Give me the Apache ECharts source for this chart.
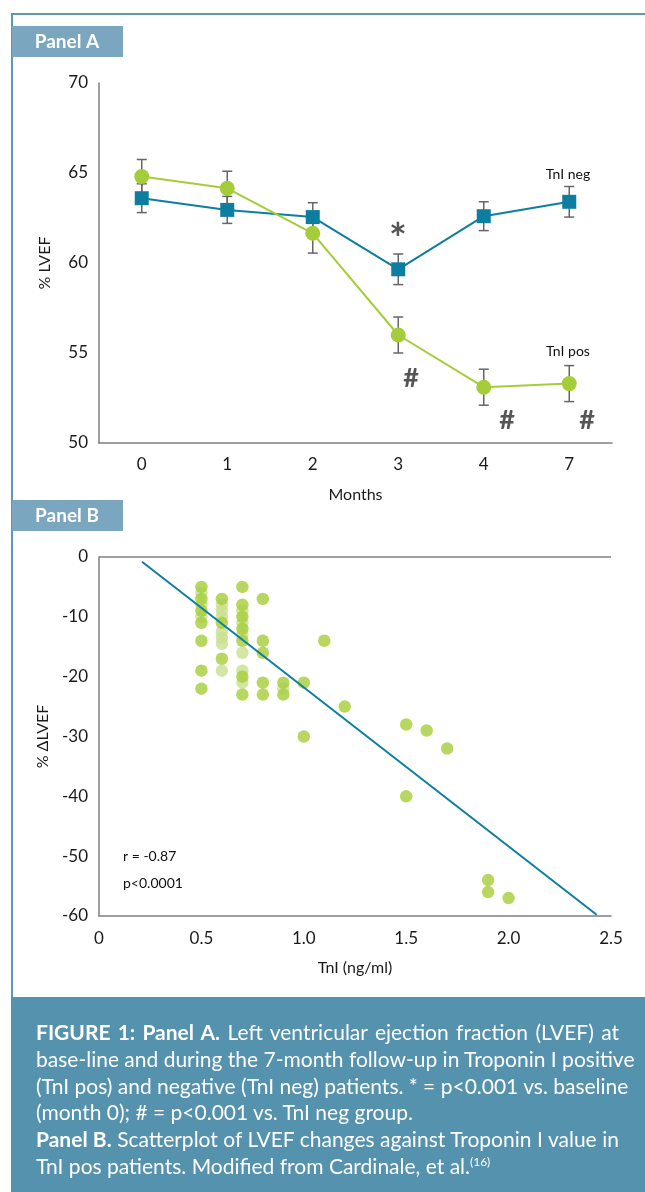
<!DOCTYPE html>
<html>
<head>
<meta charset="utf-8">
<script src="https://cdn.jsdelivr.net/npm/echarts@6/dist/echarts.min.js"></script>
<style>
  html, body { margin: 0; padding: 0; background: #ffffff; }
  #wrap { position: relative; width: 645px; height: 1192px; overflow: hidden; }
  #chart { position: absolute; left: 0; top: 0; width: 645px; height: 1192px; }
  #cap { position: absolute; left: 36px; top: 1019px; width: 583px; color: #ffffff;
         font-family: Lato, 'Noto Sans', sans-serif; font-size: 21px; line-height: 26.8px; }
  #cap .l { white-space: nowrap; }
  #cap .j { text-align: justify; text-align-last: justify; }
  #cap b { font-weight: 700; }
  #cap sup { font-size: 12px; line-height: 0; vertical-align: 8px; }
</style>
</head>
<body>
<div id="wrap">
  <div id="chart"></div>
  <div id="cap">
    <div class="l j"><b>FIGURE 1: Panel A.</b> Left ventricular ejection fraction (LVEF) at</div>
    <div class="l j">base-line and during the 7-month follow-up in Troponin I positive</div>
    <div class="l j">(TnI pos) and negative (TnI neg) patients. * = p&lt;0.001 vs. baseline</div>
    <div class="l">(month 0); # = p&lt;0.001 vs. TnI neg group.</div>
    <div class="l j"><b>Panel B.</b> Scatterplot of LVEF changes against Troponin I value in</div>
    <div class="l">TnI pos patients. Modified from Cardinale, et al.<sup>(16)</sup></div>
  </div>
</div>
<script>
// ---------- Panel A data ----------
const months = ['0', '1', '2', '3', '4', '7'];
const tnINeg = [63.6, 62.95, 62.55, 59.65, 62.6, 63.4];
const tnINegErr = [0.8, 0.75, 0.8, 0.85, 0.8, 0.85];
const tnIPos = [64.8, 64.15, 61.65, 56.0, 53.1, 53.3];
const tnIPosErr = [0.95, 0.95, 1.1, 1.0, 1.0, 1.0];
const yTicksA = [50, 55, 60, 65, 70];

// ---------- Panel B data ----------
const scatterDark = [
  [0.5, -5], [0.5, -7], [0.5, -9], [0.5, -11], [0.5, -14], [0.5, -19], [0.5, -22],
  [0.6, -7], [0.6, -11], [0.6, -17],
  [0.7, -5], [0.7, -8], [0.7, -10], [0.7, -12], [0.7, -14], [0.7, -20], [0.7, -23],
  [0.8, -7], [0.8, -14], [0.8, -16], [0.8, -21], [0.8, -23],
  [0.9, -21], [0.9, -23],
  [1.0, -21], [1.0, -30],
  [1.1, -14],
  [1.2, -25],
  [1.5, -28], [1.5, -40],
  [1.6, -29],
  [1.7, -32],
  [1.9, -54], [1.9, -56],
  [2.0, -57]
];
const scatterLight = [
  [0.5, -6], [0.5, -8], [0.5, -10],
  [0.6, -8], [0.6, -9], [0.6, -10], [0.6, -12.5], [0.6, -13.5], [0.6, -14.5], [0.6, -19],
  [0.7, -9], [0.7, -11], [0.7, -13], [0.7, -16], [0.7, -19], [0.7, -21],
  [0.9, -22]
];
const regressionLine = [[0.21, -0.8], [2.43, -59.8]];
const xTicksB = [0, 0.5, 1.0, 1.5, 2.0, 2.5];
const statsText = ['r = -0.87', 'p<0.0001'];

// ---------- styles ----------
const FONT = 'Lato, "Noto Sans", sans-serif';
const BLUE = '#0e7ea0';
const GREEN = '#a5cd39';
const GREEN_LIGHT = '#c9e08f';
const AXIS = '#7f7f7f';
const FRAME = '#5f98b2';
const LABELBOX = '#7ba6bf';
const CAPBG = '#5592ad';
const ERR = '#666666';

function errData(means, errs) {
  return means.map((m, i) => [i, m - errs[i], m + errs[i]]);
}
function errRender(params, api) {
  const x = api.value(0);
  const lo = api.coord([x, api.value(1)]);
  const hi = api.coord([x, api.value(2)]);
  const hw = 5;
  const st = { stroke: ERR, lineWidth: 1.5 };
  return {
    type: 'group',
    children: [
      { type: 'line', shape: { x1: lo[0], y1: lo[1], x2: hi[0], y2: hi[1] }, style: st },
      { type: 'line', shape: { x1: lo[0] - hw, y1: lo[1], x2: lo[0] + hw, y2: lo[1] }, style: st },
      { type: 'line', shape: { x1: hi[0] - hw, y1: hi[1], x2: hi[0] + hw, y2: hi[1] }, style: st }
    ]
  };
}

const axisCommon = {
  axisLine: { show: true, onZero: false, lineStyle: { color: AXIS, width: 1.5 } },
  axisTick: { show: false },
  splitLine: { show: false },
  axisLabel: { color: '#1a1a1a', fontSize: 17, fontFamily: FONT },
  nameTextStyle: { color: '#1a1a1a', fontSize: 16, fontFamily: FONT }
};

const chart = echarts.init(document.getElementById('chart'), null, { renderer: 'canvas' });

const option = {
  backgroundColor: '#ffffff',
  animation: false,
  grid: [
    { left: 99, top: 83, width: 513, height: 360, containLabel: false },
    { left: 99, top: 557, width: 512, height: 359, containLabel: false }
  ],
  xAxis: [
    Object.assign({}, axisCommon, {
      gridIndex: 0, type: 'category', data: months, boundaryGap: true,
      axisLabel: Object.assign({}, axisCommon.axisLabel, { margin: 13 }),
      name: 'Months', nameLocation: 'middle', nameGap: 44
    }),
    Object.assign({}, axisCommon, {
      gridIndex: 1, type: 'value', min: xTicksB[0], max: xTicksB[xTicksB.length - 1], interval: 0.5,
      axisLabel: Object.assign({}, axisCommon.axisLabel, {
        margin: 14, formatter: v => (v === 0 ? '0' : v.toFixed(1))
      }),
      name: 'TnI (ng/ml)', nameLocation: 'middle', nameGap: 44
    })
  ],
  yAxis: [
    Object.assign({}, axisCommon, {
      gridIndex: 0, type: 'value', min: yTicksA[0], max: yTicksA[yTicksA.length - 1], interval: 5,
      axisLabel: Object.assign({}, axisCommon.axisLabel, { margin: 11 }),
      name: '% LVEF', nameLocation: 'middle', nameGap: 46, nameRotate: 90
    }),
    Object.assign({}, axisCommon, {
      gridIndex: 1, type: 'value', min: -60, max: 0, interval: 10,
      axisLabel: Object.assign({}, axisCommon.axisLabel, { margin: 11 }),
      name: '% ΔLVEF', nameLocation: 'middle', nameGap: 46, nameRotate: 90
    })
  ],
  series: [
    { type: 'custom', xAxisIndex: 0, yAxisIndex: 0, renderItem: errRender,
      data: errData(tnINeg, tnINegErr), z: 1, silent: true },
    { type: 'custom', xAxisIndex: 0, yAxisIndex: 0, renderItem: errRender,
      data: errData(tnIPos, tnIPosErr), z: 1, silent: true },
    { type: 'line', name: 'TnI neg', xAxisIndex: 0, yAxisIndex: 0, data: tnINeg,
      symbol: 'rect', symbolSize: 14, showAllSymbol: true,
      lineStyle: { color: BLUE, width: 2 }, itemStyle: { color: BLUE, borderWidth: 0 }, z: 3 },
    { type: 'line', name: 'TnI pos', xAxisIndex: 0, yAxisIndex: 0, data: tnIPos,
      symbol: 'circle', symbolSize: 15, showAllSymbol: true,
      lineStyle: { color: GREEN, width: 2 }, itemStyle: { color: GREEN, borderWidth: 0 }, z: 4 },
    { type: 'scatter', xAxisIndex: 1, yAxisIndex: 1, data: scatterLight,
      symbol: 'circle', symbolSize: 12.5, itemStyle: { color: GREEN_LIGHT }, z: 2 },
    { type: 'scatter', xAxisIndex: 1, yAxisIndex: 1, data: scatterDark,
      symbol: 'circle', symbolSize: 12.5, itemStyle: { color: GREEN }, z: 3 },
    { type: 'line', xAxisIndex: 1, yAxisIndex: 1, data: regressionLine,
      symbol: 'none', lineStyle: { color: BLUE, width: 2 }, z: 4 }
  ],
  graphic: [
    // frame
    { type: 'line', shape: { x1: 12, y1: 14, x2: 645, y2: 14 }, style: { stroke: FRAME, lineWidth: 2 }, z: 10 },
    { type: 'line', shape: { x1: 12, y1: 13, x2: 12, y2: 998 }, style: { stroke: FRAME, lineWidth: 2 }, z: 10 },
    // top line of Panel B plot
    { type: 'line', shape: { x1: 99, y1: 557, x2: 611, y2: 557 }, style: { stroke: AXIS, lineWidth: 1.5 }, z: 5 },
    // panel labels
    { type: 'rect', shape: { x: 12, y: 26, width: 111, height: 31 }, style: { fill: LABELBOX }, z: 10 },
    { type: 'text', x: 67, y: 42, style: { text: 'Panel A', fill: '#fff', font: 'bold 19px ' + FONT, align: 'center', verticalAlign: 'middle' }, z: 11 },
    { type: 'rect', shape: { x: 12, y: 500, width: 111, height: 31 }, style: { fill: LABELBOX }, z: 10 },
    { type: 'text', x: 67, y: 516, style: { text: 'Panel B', fill: '#fff', font: 'bold 19px ' + FONT, align: 'center', verticalAlign: 'middle' }, z: 11 },
    // caption background
    { type: 'rect', shape: { x: 11, y: 997, width: 634, height: 195 }, style: { fill: CAPBG }, z: 10 },
    // Panel A annotations
    { type: 'text', x: 398, y: 240, style: { text: '*', fill: '#555', font: 'bold 42px ' + FONT, align: 'center', verticalAlign: 'middle' }, z: 12 },
    { type: 'text', x: 411, y: 378, style: { text: '#', fill: '#555', font: 'bold 27px ' + FONT, align: 'center', verticalAlign: 'middle' }, z: 12 },
    { type: 'text', x: 507, y: 420, style: { text: '#', fill: '#555', font: 'bold 27px ' + FONT, align: 'center', verticalAlign: 'middle' }, z: 12 },
    { type: 'text', x: 587, y: 420, style: { text: '#', fill: '#555', font: 'bold 27px ' + FONT, align: 'center', verticalAlign: 'middle' }, z: 12 },
    { type: 'text', x: 568, y: 174, style: { text: 'TnI neg', fill: '#111', font: '14px ' + FONT, align: 'center', verticalAlign: 'middle' }, z: 12 },
    { type: 'text', x: 568, y: 351, style: { text: 'TnI pos', fill: '#111', font: '14px ' + FONT, align: 'center', verticalAlign: 'middle' }, z: 12 },
    // Panel B stats
    { type: 'text', x: 123, y: 856, style: { text: statsText[0], fill: '#111', font: '14px ' + FONT, align: 'left', verticalAlign: 'middle' }, z: 12 },
    { type: 'text', x: 123, y: 883, style: { text: statsText[1], fill: '#111', font: '14px ' + FONT, align: 'left', verticalAlign: 'middle' }, z: 12 }
  ]
};
chart.setOption(option);
</script>
</body>
</html>
